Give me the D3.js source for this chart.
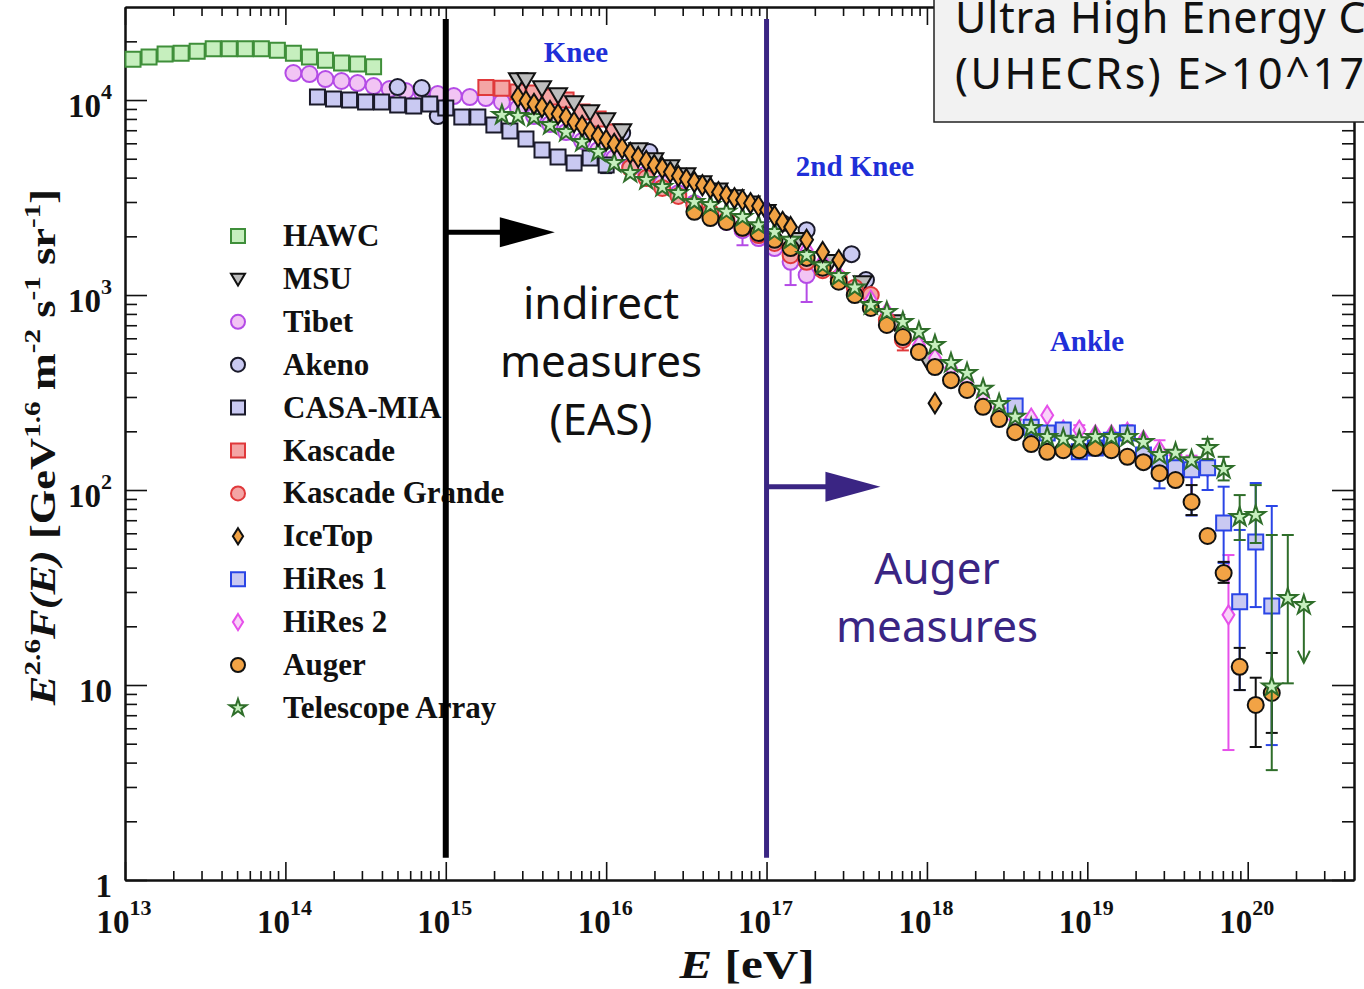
<!DOCTYPE html>
<html>
<head>
<meta charset="utf-8">
<script src="https://cdn.jsdelivr.net/npm/d3@7"></script>
<style>
body { margin: 0; background: #fff; }
svg { display: block; }
</style>
</head>
<body>
<script>
// cosmic ray all-particle spectrum, E^2.6 F(E)
// energies are log10(E/eV), fluxes in GeV^1.6 m^-2 s^-1 sr^-1

var hawcLogE = [13.05, 13.15, 13.25, 13.35, 13.45, 13.55, 13.65, 13.75, 13.85, 13.95, 14.05, 14.15, 14.25, 14.35, 14.45, 14.55];
var hawcF = [16200, 16600, 17200, 17400, 17800, 18300, 18300, 18300, 18300, 18000, 17400, 16600, 16000, 15500, 15300, 14800];

var tibetLogE = [14.05, 14.15, 14.25, 14.35, 14.45, 14.55, 14.65, 14.75, 14.85, 14.95, 15.05, 15.15, 15.25, 15.35, 15.45, 15.55, 15.65,
  15.75, 15.85, 15.95, 16.05, 16.15, 16.25, 16.35, 16.45, 16.55, 16.65, 16.75, 16.85, 16.95, 17.05, 17.15, 17.25];
var tibetF = [13750, 13590, 12810, 12520, 12220, 11800, 11390, 11120, 10990, 10730, 10480, 10360, 10240, 9770, 9100, 8280, 7530,
  6850, 6160, 5540, 5040, 4590, 4170, 3750, 3330, 2960, 2630, 2370, 2150, 1960, 1740, 1480, 1265];
var tibetErr = [[16.85, 1800, 2400], [17.15, 1125, 1650], [17.25, 921, 1350]];

var akenoLogE = [14.7, 14.85, 14.95, 16.1, 16.27, 17.1, 17.25, 17.53, 17.62];
var akenoF = [11660, 11520, 8280, 6770, 5410, 2340, 2150, 1620, 1193];

var casaLogE = [14.2, 14.3, 14.4, 14.5, 14.6, 14.7, 14.8, 14.9, 15.0, 15.1, 15.2, 15.3, 15.4, 15.5, 15.6, 15.7, 15.8, 15.9, 16.0];
var casaF = [10360, 10120, 10000, 9770, 9770, 9430, 9320, 9540, 9100, 8180, 8180, 7440, 6930, 6310, 5540, 5100, 4750, 5050, 4640];
var casaErr = [[15.8, 4380, 5100], [16.0, 4220, 5000]];

var msuLogE = [15.45, 15.5, 15.6, 15.7, 15.8, 15.9, 16.0, 16.1, 16.2, 16.3, 16.4, 16.5, 16.6, 16.7, 16.8, 16.9, 17.0, 17.2, 17.4, 17.6, 17.8, 18.0];
var msuF = [12660, 12660, 11520, 10610, 9650, 8680, 7900, 6930, 5540, 4920, 4530, 4130, 3750, 3450, 3180, 2960, 2670, 1920, 1480, 1152, 727, 464];

var kascadeLogE = [15.25, 15.35, 15.45, 15.55, 15.65, 15.75, 15.85, 15.95, 16.05];
var kascadeF = [11600, 11500, 11000, 10860, 10360, 10000, 8680, 7990, 6850];

var kgLogE = [16.15, 16.25, 16.35, 16.45, 16.55, 16.65, 16.75, 16.85, 16.95, 17.05, 17.15, 17.25, 17.35, 17.45, 17.55, 17.65, 17.75, 17.85];
var kgF = [4480, 3980, 3540, 3220, 2890, 2670, 2420, 2210, 2030, 1850, 1600, 1480, 1340, 1220, 1090, 1000, 744, 588];
var kgErr = [[17.85, 520, 680]];

var icetopLogE = [15.45, 15.5, 15.55, 15.6, 15.65, 15.7, 15.75, 15.8, 15.85, 15.9, 15.95, 16.0, 16.05, 16.1, 16.15, 16.2, 16.25, 16.3,
  16.35, 16.4, 16.45, 16.5, 16.55, 16.6, 16.65, 16.7, 16.75, 16.8, 16.85, 16.9, 16.95, 17.0, 17.05, 17.1, 17.15, 17.25, 17.35, 17.45, 18.05];
var icetopF = [10360, 9880, 9540, 9210, 8780, 8480, 8180, 7710, 7360, 6930, 6540, 6240, 5950, 5670, 5350, 5100, 4870, 4640,
  4480, 4270, 4080, 3930, 3800, 3660, 3540, 3370, 3260, 3140, 3070, 2960, 2860, 2730, 2540, 2370, 2230, 1920, 1660, 1510, 279];

var hires2LogE = [17.25, 17.35, 17.45, 17.55, 17.65, 17.75, 17.85, 17.95, 18.05, 18.15, 18.25, 18.35, 18.45, 18.55, 18.65, 18.75,
  18.85, 18.95, 19.05, 19.15, 19.25, 19.35, 19.45, 19.55, 19.65, 19.75, 19.88];
var hires2F = [1700, 1480, 1265, 1061, 943, 818, 661, 554, 475, 422, 366, 307, 263, 229, 234, 242,
  203, 203, 192, 192, 198, 180, 160, 151, 130, 131, 22.9];
var hires2Err = [[18.95, 180, 215], [19.25, 185, 215], [19.45, 138, 180], [19.65, 86.8, 150], [19.88, 4.64, 46.4]];

var hires1LogE = [18.55, 18.65, 18.75, 18.85, 18.95, 19.05, 19.15, 19.25, 19.35, 19.45, 19.55, 19.65, 19.75, 19.85, 19.95, 20.05, 20.15];
var hires1F = [270, 210, 196, 203, 157, 164, 180, 196, 151, 138, 130, 127, 130, 67.8, 26.7, 54.1, 25.4];
var hires1Err = [[19.45, 102, 148], [19.65, 74, 127], [19.75, 100, 142], [19.85, 42.3, 104], [19.95, 9.42, 62.4], [20.05, 25.1, 108.6], [20.15, 4.92, 82.8]];

var augerLogE = [16.55, 16.65, 16.75, 16.85, 16.95, 17.05, 17.15, 17.25, 17.35, 17.45, 17.55, 17.65, 17.75, 17.85, 17.95, 18.05, 18.15,
  18.25, 18.35, 18.45, 18.55, 18.65, 18.75, 18.85, 18.95, 19.05, 19.15, 19.25, 19.35, 19.45, 19.55, 19.65, 19.75, 19.85, 19.95, 20.05, 20.15];
var augerF = [2670, 2480, 2370, 2210, 2080, 1920, 1740, 1550, 1380, 1170, 1000, 858, 702, 609, 510, 427, 366,
  326, 267, 231, 198, 172, 157, 160, 160, 164, 160, 148, 139, 122, 112.5, 86.8, 58.1, 37.5, 12.4, 7.9, 9.1];
var augerErr = [[19.65, 74.4, 106], [19.85, 33.4, 42.8], [19.95, 9.42, 15.5], [20.05, 4.81, 10.9], [20.15, 5.68, 14.6]];

var taLogE = [15.35, 15.45, 15.55, 15.65, 15.75, 15.85, 15.95, 16.05, 16.15, 16.25, 16.35, 16.45, 16.55, 16.65, 16.75, 16.85, 16.95,
  17.05, 17.15, 17.25, 17.35, 17.45, 17.55, 17.65, 17.75, 17.85, 17.95, 18.05, 18.15, 18.25, 18.35, 18.45, 18.55, 18.65, 18.75,
  18.85, 18.95, 19.05, 19.15, 19.25, 19.35, 19.45, 19.55, 19.65, 19.75, 19.85, 19.95, 20.05, 20.15, 20.25, 20.35];
var taF = [8380, 8280, 8180, 7440, 6850, 6090, 5410, 4750, 4220, 3890, 3580, 3330, 3000, 2890, 2670, 2510, 2280,
  2100, 1920, 1600, 1420, 1250, 1090, 889, 818, 727, 646, 554, 448, 398, 330, 276, 237, 208, 187,
  183, 180, 187, 187, 187, 176, 151, 155, 142, 164, 128, 72.7, 74.4, 9.8, 27.9, 25.7];
var taErr = [[19.75, 144, 183], [19.85, 112, 148], [19.95, 55.4, 94.2], [20.05, 53.5, 106], [20.15, 3.66, 58.8], [20.25, 10.2, 58.8]];
var taLimit = [20.35, 25.7, 13.0];

// axis ticks
var xTickExp = [13, 14, 15, 16, 17, 18, 19, 20];
var yTickExp = [0, 1, 2, 3, 4];

// annotation lines: regime boundaries at 1e15 and 1e17 eV
var boundaryLogE = [15, 17];
var boundaryF = [1.3, 26000];
var arrowTipLogE = [15.68, 17.71];
var arrowF = [2100, 104];

var W = 1364, H = 989;
var serif = '"Liberation Serif", "Times New Roman", serif';
var sans = '"Noto Sans", "Open Sans", sans-serif';

var svg = d3.select('body').append('svg')
  .attr('width', W)
  .attr('height', H);

var x = d3.scaleLog().domain([1e13, 4.6e20]).range([125, 1354]);
var y = d3.scaleLog().domain([1, 3e4]).range([880, 7]);
var xe = function(le) { return x(Math.pow(10, le)); };

// ---- frame and ticks
var xMinor = [], yMinor = [];
for (var k = 13; k <= 20; k++) {
  for (var m = 2; m <= 9; m++) {
    if (m * Math.pow(10, k) < 4.6e20) xMinor.push(m * Math.pow(10, k));
  }
}
for (var k = 0; k <= 4; k++) {
  for (var m = 2; m <= 9; m++) {
    if (m * Math.pow(10, k) < 3e4) yMinor.push(m * Math.pow(10, k));
  }
}
var xMajor = xTickExp.map(function(e) { return Math.pow(10, e); });
var yMajor = yTickExp.map(function(e) { return Math.pow(10, e); });

function addAxis(axis, tx, ty) {
  var g = svg.append('g').attr('transform', 'translate(' + tx + ',' + ty + ')').call(axis);
  g.selectAll('path').attr('stroke', '#111').attr('stroke-width', 2);
  g.selectAll('line').attr('stroke', '#111').attr('stroke-width', 1.6);
  g.selectAll('text').remove();
}
addAxis(d3.axisBottom(x).tickValues(xMajor).tickSize(-18).tickSizeOuter(0).tickFormat(''), 0, 880);
addAxis(d3.axisBottom(x).tickValues(xMinor).tickSize(-9).tickSizeOuter(0).tickFormat(''), 0, 880);
addAxis(d3.axisTop(x).tickValues(xMajor).tickSize(-18).tickSizeOuter(0).tickFormat(''), 0, 7);
addAxis(d3.axisTop(x).tickValues(xMinor).tickSize(-9).tickSizeOuter(0).tickFormat(''), 0, 7);
addAxis(d3.axisLeft(y).tickValues(yMajor).tickSize(-22).tickSizeOuter(0).tickFormat(''), 125, 0);
addAxis(d3.axisLeft(y).tickValues(yMinor).tickSize(-12).tickSizeOuter(0).tickFormat(''), 125, 0);
addAxis(d3.axisRight(y).tickValues(yMajor).tickSize(-22).tickSizeOuter(0).tickFormat(''), 1354, 0);
addAxis(d3.axisRight(y).tickValues(yMinor).tickSize(-12).tickSizeOuter(0).tickFormat(''), 1354, 0);

// tick labels with superscripts
xTickExp.forEach(function(e) {
  var t = svg.append('text')
    .attr('x', x(Math.pow(10, e)) - 1).attr('y', 933)
    .attr('text-anchor', 'middle')
    .attr('font-family', serif).attr('font-weight', 'bold').attr('font-size', 33)
    .attr('fill', '#111');
  t.append('tspan').text('10');
  t.append('tspan').attr('dy', -18).attr('font-size', 22).text(e);
});
yTickExp.forEach(function(e) {
  var t = svg.append('text')
    .attr('x', 112).attr('y', y(Math.pow(10, e)) + 17)
    .attr('text-anchor', 'end')
    .attr('font-family', serif).attr('font-weight', 'bold').attr('font-size', 33)
    .attr('fill', '#111');
  if (e === 0) t.text('1');
  else if (e === 1) t.text('10');
  else {
    t.append('tspan').text('10');
    t.append('tspan').attr('dy', -18).attr('font-size', 22).text(e);
  }
});

// axis titles
var xt = svg.append('text')
  .attr('x', 747).attr('y', 978)
  .attr('text-anchor', 'middle')
  .attr('font-family', serif).attr('font-weight', 'bold').attr('font-size', 39)
  .attr('textLength', 135).attr('lengthAdjust', 'spacingAndGlyphs')
  .attr('fill', '#111');
xt.append('tspan').attr('font-style', 'italic').text('E');
xt.append('tspan').text(' [eV]');

var yt = svg.append('text')
  .attr('transform', 'translate(55,447) rotate(-90) scale(1.27,1)')
  .attr('text-anchor', 'middle')
  .attr('font-family', serif).attr('font-weight', 'bold').attr('font-size', 35)
  .attr('fill', '#111');
var ylabParts = [['E', 'i'], ['2.6', 's'], ['F(E)', 'i'], [' [GeV', ''], ['1.6', 's'], [' m', ''], ['-2', 's'],
  [' s', ''], ['-1', 's'], [' sr', ''], ['-1', 's'], [']', '']];
var up = false;
ylabParts.forEach(function(p) {
  var ts = yt.append('tspan').text(p[0]);
  if (p[1] === 'i') ts.attr('font-style', 'italic');
  if (p[1] === 's') { ts.attr('font-size', 23).attr('dy', -15); up = true; }
  else if (up) { ts.attr('dy', 15); up = false; }
});

// ---- markers
function shapePath(shape, r) {
  if (shape === 'square') return 'M' + (-r) + ',' + (-r) + 'h' + 2 * r + 'v' + 2 * r + 'h' + (-2 * r) + 'Z';
  if (shape === 'circle') return 'M' + (-r) + ',0a' + r + ',' + r + ' 0 1,0 ' + 2 * r + ',0a' + r + ',' + r + ' 0 1,0 ' + (-2 * r) + ',0Z';
  if (shape === 'diamond') return 'M0,' + (-r * 1.35) + 'L' + r * 0.85 + ',0L0,' + r * 1.35 + 'L' + (-r * 0.85) + ',0Z';
  if (shape === 'tri') return 'M' + (-r) + ',' + (-r * 0.75) + 'L' + r + ',' + (-r * 0.75) + 'L0,' + r * 0.95 + 'Z';
  if (shape === 'star') return d3.symbol(d3.symbolStar, r * r * 1.4)();
}

var series = [
  { name: 'HAWC', logE: hawcLogE, F: hawcF, shape: 'square', r: 7.5, fill: '#c6efbe', stroke: '#3f8f3a' },
  { name: 'MSU', logE: msuLogE, F: msuF, shape: 'tri', r: 9, fill: '#bdbdbd', stroke: '#111' },
  { name: 'Tibet', logE: tibetLogE, F: tibetF, err: tibetErr, shape: 'circle', r: 8, fill: '#f2c4f4', stroke: '#b44be6' },
  { name: 'Akeno', logE: akenoLogE, F: akenoF, shape: 'circle', r: 8, fill: '#c9c9f2', stroke: '#1a1a2a' },
  { name: 'CASA-MIA', logE: casaLogE, F: casaF, err: casaErr, shape: 'square', r: 7.5, fill: '#c9c9f2', stroke: '#1a1a2a' },
  { name: 'Kascade', logE: kascadeLogE, F: kascadeF, shape: 'square', r: 7.5, fill: '#f4a5a5', stroke: '#e0393b' },
  { name: 'Kascade Grande', logE: kgLogE, F: kgF, err: kgErr, shape: 'circle', r: 8, fill: '#f4a5a5', stroke: '#e0393b' },
  { name: 'IceTop', logE: icetopLogE, F: icetopF, shape: 'diamond', r: 7.5, fill: '#f2a345', stroke: '#111' },
  { name: 'HiRes 1', logE: hires1LogE, F: hires1F, err: hires1Err, shape: 'square', r: 7.5, fill: '#c9c9f2', stroke: '#2a45e6' },
  { name: 'HiRes 2', logE: hires2LogE, F: hires2F, err: hires2Err, shape: 'diamond', r: 7, fill: '#f9d2f9', stroke: '#e650ea' },
  { name: 'Auger', logE: augerLogE, F: augerF, err: augerErr, shape: 'circle', r: 8, fill: '#f2a345', stroke: '#111' },
  { name: 'Telescope Array', logE: taLogE, F: taF, err: taErr, shape: 'star', r: 9, fill: '#c6efbe', stroke: '#2f6e2a' }
];

// drawing order (bottom to top)
var drawOrder = ['HAWC', 'Tibet', 'Akeno', 'CASA-MIA', 'Kascade', 'MSU', 'Kascade Grande', 'HiRes 2', 'HiRes 1', 'Auger', 'Telescope Array', 'IceTop'];
var plot = svg.append('g');

drawOrder.forEach(function(nm) {
  var s = series.find(function(d) { return d.name === nm; });
  var g = plot.append('g');
  if (s.err) {
    s.err.forEach(function(e) {
      var cx = xe(e[0]);
      g.append('line').attr('x1', cx).attr('x2', cx).attr('y1', y(e[1])).attr('y2', y(e[2]))
        .attr('stroke', s.stroke).attr('stroke-width', 2);
      [e[1], e[2]].forEach(function(v) {
        g.append('line').attr('x1', cx - 6).attr('x2', cx + 6).attr('y1', y(v)).attr('y2', y(v))
          .attr('stroke', s.stroke).attr('stroke-width', 2);
      });
    });
  }
  if (nm === 'Telescope Array') {
    var lx = xe(taLimit[0]), y0 = y(taLimit[1]), y1 = y(taLimit[2]);
    g.append('line').attr('x1', lx).attr('x2', lx).attr('y1', y0).attr('y2', y1)
      .attr('stroke', s.stroke).attr('stroke-width', 2);
    g.append('path').attr('d', 'M' + (lx - 6) + ',' + (y1 - 12) + 'L' + lx + ',' + y1 + 'L' + (lx + 6) + ',' + (y1 - 12))
      .attr('fill', 'none').attr('stroke', s.stroke).attr('stroke-width', 2);
  }
  g.selectAll('path.pt').data(s.logE)
    .enter()
    .append('path')
    .attr('class', 'pt')
    .attr('d', shapePath(s.shape, s.r))
    .attr('transform', function(d, i) { return 'translate(' + xe(d) + ',' + y(s.F[i]) + ')'; })
    .attr('fill', s.fill)
    .attr('stroke', s.stroke)
    .attr('stroke-width', 2);
});

// ---- legend
var legend = svg.append('g');
series.forEach(function(s, i) {
  var ly = 236 + i * 42.9;
  legend.append('path')
    .attr('d', shapePath(s.shape, s.shape === 'star' ? 8 : (s.shape === 'diamond' ? 6 : 7)))
    .attr('transform', 'translate(238,' + ly + ')')
    .attr('fill', s.fill).attr('stroke', s.stroke).attr('stroke-width', 2);
  legend.append('text')
    .attr('x', 283).attr('y', ly + 10)
    .attr('font-family', serif).attr('font-weight', 'bold').attr('font-size', 31)
    .attr('fill', '#111')
    .text(s.name);
});

// ---- physics labels
var physLabels = [['Knee', 576, 62], ['2nd Knee', 855, 176], ['Ankle', 1087, 351]];
physLabels.forEach(function(p) {
  svg.append('text').attr('x', p[1]).attr('y', p[2]).attr('text-anchor', 'middle')
    .attr('font-family', serif).attr('font-weight', 'bold').attr('font-size', 29)
    .attr('fill', '#1f2fd8').text(p[0]);
});

// ---- regime boundaries and arrows
var lineColors = ['#000', '#3a2583'];
var lineWidths = [6, 5];
boundaryLogE.forEach(function(le, i) {
  var bx = xe(le);
  svg.append('line').attr('x1', bx).attr('x2', bx).attr('y1', y(boundaryF[0])).attr('y2', y(boundaryF[1]))
    .attr('stroke', lineColors[i]).attr('stroke-width', lineWidths[i]);
  var tip = xe(arrowTipLogE[i]), ay = y(arrowF[i]);
  svg.append('line').attr('x1', bx).attr('x2', tip - 50).attr('y1', ay).attr('y2', ay)
    .attr('stroke', lineColors[i]).attr('stroke-width', 5);
  svg.append('path').attr('d', 'M' + (tip - 55) + ',' + (ay - 15) + 'L' + tip + ',' + ay + 'L' + (tip - 55) + ',' + (ay + 15) + 'Z')
    .attr('fill', lineColors[i]);
});

function bigText(lines, cx, y0, dy, color) {
  lines.forEach(function(t, i) {
    svg.append('text').attr('x', cx).attr('y', y0 + i * dy).attr('text-anchor', 'middle')
      .attr('font-family', sans).attr('font-size', 44).attr('fill', color).text(t);
  });
}
bigText(['indirect', 'measures', '(EAS)'], 601, 319, 58, '#111');
bigText(['Auger', 'measures'], 937, 584, 58, '#3a2583');

// ---- UHECR box (runs off the right edge, as in the slide)
svg.append('rect').attr('x', 934).attr('y', -3).attr('width', 460).attr('height', 125)
  .attr('fill', '#f2f2f2').attr('stroke', '#222').attr('stroke-width', 1.5);
svg.append('text').attr('x', 955).attr('y', 33)
  .attr('font-family', sans).attr('font-size', 43).attr('letter-spacing', 0.8).attr('fill', '#111')
  .text('Ultra High Energy C');
svg.append('text').attr('x', 955).attr('y', 89)
  .attr('font-family', sans).attr('font-size', 43).attr('letter-spacing', 2.6).attr('fill', '#111')
  .text('(UHECRs) E>10^17');
</script>
</body>
</html>
